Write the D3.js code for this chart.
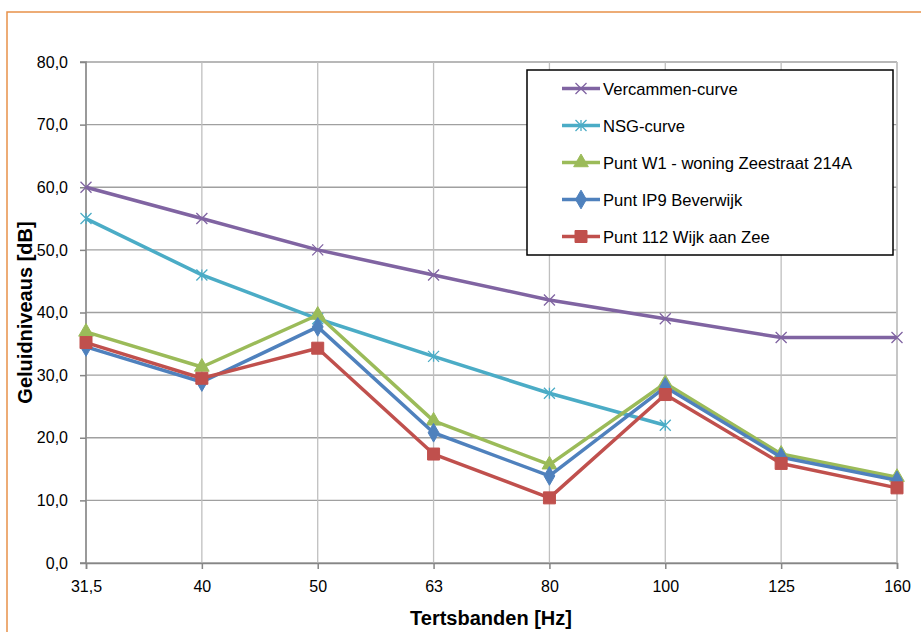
<!DOCTYPE html>
<html><head><meta charset="utf-8">
<script src="https://cdn.jsdelivr.net/npm/d3@7"></script>
<style>
html,body{margin:0;padding:0;background:#fff;}
svg{display:block;font-family:"Liberation Sans",Arial,sans-serif;}
</style></head>
<body>
<svg id="chart" width="921" height="632"></svg>
<script>
const categories = ["31,5","40","50","63","80","100","125","160"];
const yTicks = [0,10,20,30,40,50,60,70,80];
const vercammen = [60,55,50,46,42,39,36,36];
const nsg = [55,46,39,33,27.1,22,null,null];
const w1 = [36.9,31.3,39.6,22.7,15.7,28.7,17.4,13.7];
const ip9 = [34.5,28.9,37.7,20.8,13.9,28.1,16.9,13.2];
const p112 = [35.2,29.5,34.3,17.4,10.4,26.9,15.9,12.0];
const seriesNames = ["Vercammen-curve","NSG-curve","Punt W1 - woning Zeestraat 214A","Punt IP9 Beverwijk","Punt 112 Wijk aan Zee"];
const seriesColors = ["#8064A2","#4BACC6","#9BBB59","#4F81BD","#C0504D"];
const seriesMarkers = ["x","star","triangle","diamond","square"];
const seriesValues = [vercammen,nsg,w1,ip9,p112];

const svg = d3.select("#chart");
const plot = {left:86,right:897,top:62,bottom:563};

// outer border
svg.append("rect").attr("x",7).attr("y",12).attr("width",930).attr("height",640)
  .attr("fill","none").attr("stroke","#E8914A").attr("stroke-width",1.5);

const x = d3.scalePoint().domain(categories).range([plot.left,plot.right]);
const y = d3.scaleLinear().domain([0,80]).range([plot.bottom,plot.top]);

// gridlines
const g = svg.append("g");
g.selectAll(".hg").data(yTicks).join("line")
  .attr("x1",plot.left).attr("x2",plot.right)
  .attr("y1",d=>y(d)).attr("y2",d=>y(d))
  .attr("stroke","#A0A0A0").attr("stroke-width",1.3);
g.selectAll(".vg").data(categories).join("line")
  .attr("x1",d=>x(d)).attr("x2",d=>x(d))
  .attr("y1",plot.top).attr("y2",plot.bottom)
  .attr("stroke","#BFBFBF").attr("stroke-width",1.3);
g.append("line").attr("x1",plot.right).attr("x2",plot.right).attr("y1",plot.top).attr("y2",plot.bottom)
  .attr("stroke","#BFBFBF").attr("stroke-width",1.3);

// axes
const yAxis = d3.axisLeft(y).tickValues(yTicks).tickSize(6).tickPadding(12)
  .tickFormat(d=>d3.format(".1f")(d).replace(".",","));
const ya = svg.append("g").attr("transform",`translate(${plot.left},0)`).call(yAxis);
const xAxis = d3.axisBottom(x).tickSize(6).tickPadding(12);
const xa = svg.append("g").attr("transform",`translate(0,${plot.bottom})`).call(xAxis);
[ya,xa].forEach(a=>{
  a.select(".domain").attr("stroke","#868686").attr("stroke-width",1.5);
  a.selectAll(".tick line").attr("stroke","#868686").attr("stroke-width",1.5);
  a.selectAll(".tick text").attr("fill","#000").style("font-size","16px").style("font-family","Liberation Sans, Arial, sans-serif");
});
ya.select(".domain").attr("d",`M-6,${plot.top}H0V${plot.bottom}H-6`);

// axis titles
svg.append("text").attr("x",491).attr("y",625).attr("text-anchor","middle")
  .style("font-size","20px").style("font-weight","bold").text("Tertsbanden [Hz]");
svg.append("text").attr("transform",`translate(32,${(plot.top+plot.bottom)/2}) rotate(-90)`)
  .attr("text-anchor","middle").style("font-size","20px").style("font-weight","bold")
  .text("Geluidniveaus [dB]");

// marker drawing
function marker(sel,type,color,size){
  if(type==="x"){
    const s=size/2;
    sel.append("path").attr("d",`M${-s},${-s}L${s},${s}M${-s},${s}L${s},${-s}`)
      .attr("stroke",color).attr("stroke-width",1.3).attr("fill","none");
  } else if(type==="star"){
    const s=size/2;
    sel.append("path").attr("d",`M${-s},${-s}L${s},${s}M${-s},${s}L${s},${-s}M0,${-s}L0,${s}`)
      .attr("stroke",color).attr("stroke-width",1.3).attr("fill","none");
  } else {
    const sym = type==="triangle"?d3.symbolTriangle:type==="diamond"?d3.symbolDiamond:d3.symbolSquare;
    sel.append("path").attr("d",d3.symbol().type(sym).size(size*size*(type==="diamond"?0.6:type==="triangle"?0.55:1))())
      .attr("fill",color).attr("stroke",color).attr("stroke-width",1);
  }
}
const mSizes = [11,11,13,13,12];

const line = d3.line().defined(d=>d.v!=null).x(d=>x(d.c)).y(d=>y(d.v));
seriesValues.forEach((vals,i)=>{
  const pts = vals.map((v,j)=>({c:categories[j],v:v}));
  const sg = svg.append("g");
  sg.append("path").attr("d",line(pts)).attr("fill","none")
    .attr("stroke",seriesColors[i]).attr("stroke-width",3.5).attr("stroke-linejoin","round");
  pts.filter(d=>d.v!=null).forEach(d=>{
    const mg = sg.append("g").attr("transform",`translate(${x(d.c)},${y(d.v)})`);
    marker(mg,seriesMarkers[i],seriesColors[i],mSizes[i]);
  });
});

// legend
const lg = svg.append("g");
lg.append("rect").attr("x",527).attr("y",70).attr("width",366).attr("height",185)
  .attr("fill","#fff").attr("stroke","#000").attr("stroke-width",1.5);
const legY = [88.5,125.5,162.5,199.5,236.5];
seriesNames.forEach((n,i)=>{
  const row = lg.append("g");
  row.append("line").attr("x1",562).attr("x2",600).attr("y1",legY[i]).attr("y2",legY[i])
    .attr("stroke",seriesColors[i]).attr("stroke-width",3.5);
  const mg = row.append("g").attr("transform",`translate(581,${legY[i]})`);
  marker(mg,seriesMarkers[i],seriesColors[i],mSizes[i]);
  row.append("text").attr("x",603).attr("y",legY[i]+6).style("font-size","16.6px").attr("fill","#000").text(n);
});
</script>
</body></html>
